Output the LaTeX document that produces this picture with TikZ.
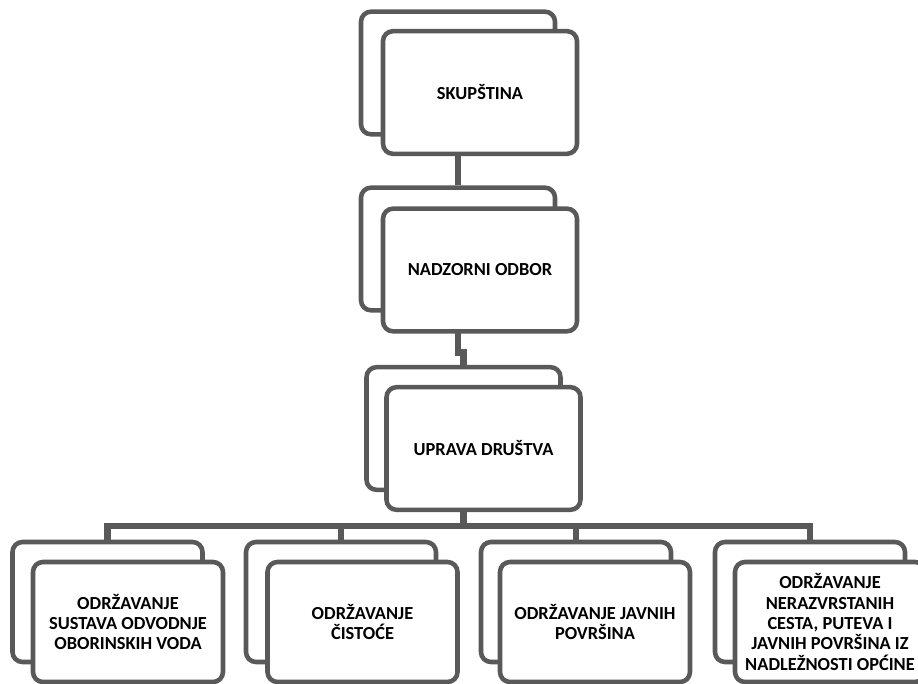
\documentclass[tikz,border=0pt]{standalone}
\usepackage{fontspec}
\setmainfont{Carlito}
\usetikzlibrary{calc}
\definecolor{boxgray}{RGB}{89,89,89}

\begin{document}
\begin{tikzpicture}[x=0.75pt,y=-0.75pt,
    box/.style={draw=boxgray, line width=3.4pt, rounded corners=7.5pt, fill=white,
        minimum width=145.5pt, minimum height=92pt, inner sep=2pt, align=center,
        font=\fontsize{13.8}{15.2}\selectfont\bfseries},
    unitbox/.style={box, minimum width=142.5pt, minimum height=90pt},
    link/.style={boxgray, line width=4.8pt}]
    \clip (0,0) rectangle (918,684);
    \node[box] (skupB) at (458,73) {};
    \node[box] (odborB) at (458,249) {};
    \node[box] (upravaB) at (463.5,428.5) {};
    \node[unitbox] (odvB) at (107.5,602) {};
    \node[unitbox] (cistB) at (341,602) {};
    \node[unitbox] (povB) at (576,602) {};
    \node[unitbox] (cestB) at (810,602) {};
    \draw[link] (skupB.south) -- (odborB.north);
    \draw[link] (odborB.south) -- ++(0,40) -| (upravaB.north);
    \draw[link] (upravaB.south) -- ++(0,34) coordinate (bus);
    \foreach \n in {odvB,cistB,povB,cestB}
        \draw[link] (bus) -| (\n.north);
    \node[box] (skup) at (480,92.5) {SKUPŠTINA};
    \node[box] (odbor) at (480,270) {NADZORNI ODBOR};
    \node[box] (uprava) at (483.5,448.5) {UPRAVA DRUŠTVA};
    \node[unitbox] (odv) at (128,622) {ODRŽAVANJE\\SUSTAVA ODVODNJE\\OBORINSKIH VODA};
    \node[unitbox] (cist) at (362.5,622) {ODRŽAVANJE\\ČISTOĆE};
    \node[unitbox] (pov) at (595,622) {ODRŽAVANJE JAVNIH\\POVRŠINA};
    \node[unitbox] (cest) at (830,622) {ODRŽAVANJE\\NERAZVRSTANIH\\CESTA, PUTEVA I\\JAVNIH POVRŠINA IZ\\NADLEŽNOSTI OPĆINE};
\end{tikzpicture}
\end{document}
